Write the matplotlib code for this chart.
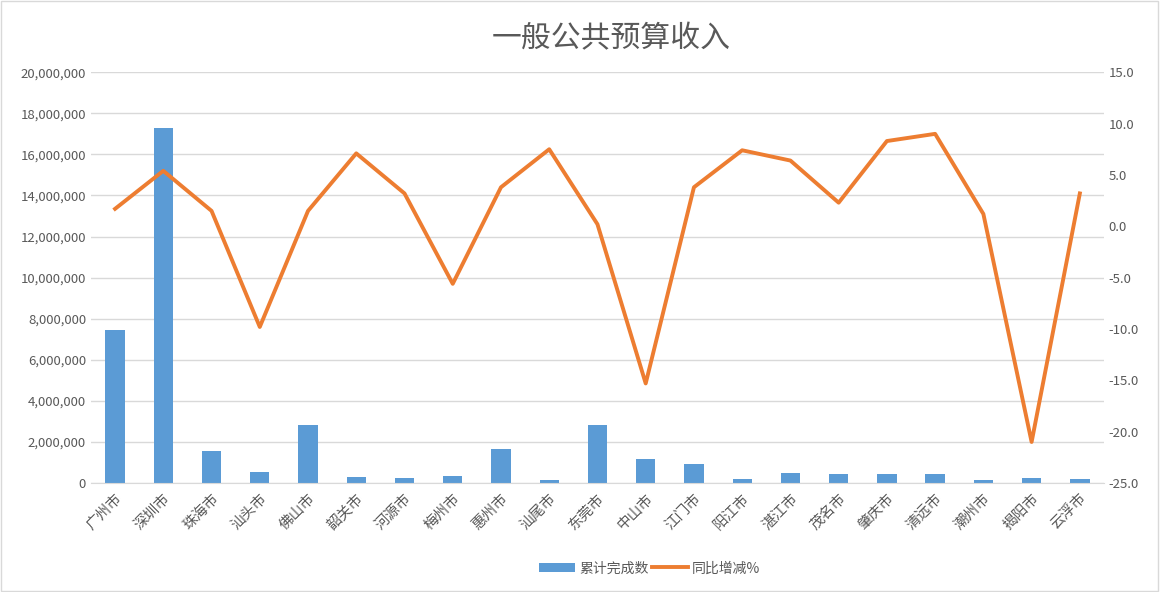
import numpy as np
import matplotlib.pyplot as plt
from matplotlib.patches import Rectangle
from matplotlib.ticker import FuncFormatter

plt.rcParams['font.family'] = ['Noto Sans CJK SC', 'DejaVu Sans']

cities = ['广州市', '深圳市', '珠海市', '汕头市', '佛山市', '韶关市', '河源市',
          '梅州市', '惠州市', '汕尾市', '东莞市', '中山市', '江门市', '阳江市',
          '湛江市', '茂名市', '肇庆市', '清远市', '潮州市', '揭阳市', '云浮市']
income = [7450000, 17270000, 1560000, 540000, 2820000, 290000, 240000,
          340000, 1650000, 150000, 2820000, 1170000, 920000, 200000,
          490000, 440000, 440000, 440000, 140000, 250000, 200000]
growth = [1.7, 5.4, 1.5, -9.8, 1.5, 7.1, 3.2,
          -5.6, 3.8, 7.5, 0.2, -15.3, 3.8, 7.4,
          6.4, 2.3, 8.3, 9.0, 1.2, -21.0, 3.2]

grey = '#595959'
grid = '#d9d9d9'

fig = plt.figure(figsize=(11.6, 5.92), dpi=100)
fig.patches.append(Rectangle((0.001, 0.002), 0.997, 0.996, transform=fig.transFigure,
                             fill=False, edgecolor='#d9d9d9', linewidth=1))
ax = fig.add_axes([0.0784, 0.184, 0.8733, 0.694])
x = np.arange(len(cities))

bars = ax.bar(x, income, width=0.4, color='#5b9bd5', label='累计完成数', zorder=2)
ax.set_ylim(0, 20000000)
ax.set_yticks(np.arange(0, 20000001, 2000000))
ax.yaxis.set_major_formatter(FuncFormatter(lambda v, p: f'{int(v):,}'))
ax.set_xlim(-0.5, len(cities) - 0.5)
ax.set_xticks(x)
ax.set_xticklabels(cities, rotation=45, ha='right', rotation_mode='anchor')
ax.grid(axis='y', color=grid, linewidth=1, zorder=0)
ax.set_axisbelow(True)
for s in ['top', 'right', 'left']:
    ax.spines[s].set_visible(False)
ax.spines['bottom'].set_color(grid)
ax.tick_params(axis='both', length=0, colors=grey, labelsize=9.5)
ax.tick_params(axis='x', pad=6, labelsize=10.5)

ax2 = ax.twinx()
line, = ax2.plot(x, growth, color='#ed7d31', linewidth=2.8, label='同比增减%', zorder=3)
ax2.set_ylim(-25, 15)
ax2.set_yticks(np.arange(-25, 15.1, 5))
ax2.yaxis.set_major_formatter(FuncFormatter(lambda v, p: f'{v:.1f}'))
for s in ax2.spines.values():
    s.set_visible(False)
ax2.tick_params(axis='y', length=0, colors=grey, labelsize=9.5)

fig.text(0.527, 0.935, '一般公共预算收入', ha='center', va='center', fontsize=21.5, color=grey)
fig.legend([bars, line], ['累计完成数', '同比增减%'], loc='center', bbox_to_anchor=(0.56, 0.04),
           ncol=2, frameon=False, fontsize=10, labelcolor=grey, handlelength=2.6,
           handletextpad=0.3, columnspacing=0.2)

fig.savefig('out.png', dpi=100)
